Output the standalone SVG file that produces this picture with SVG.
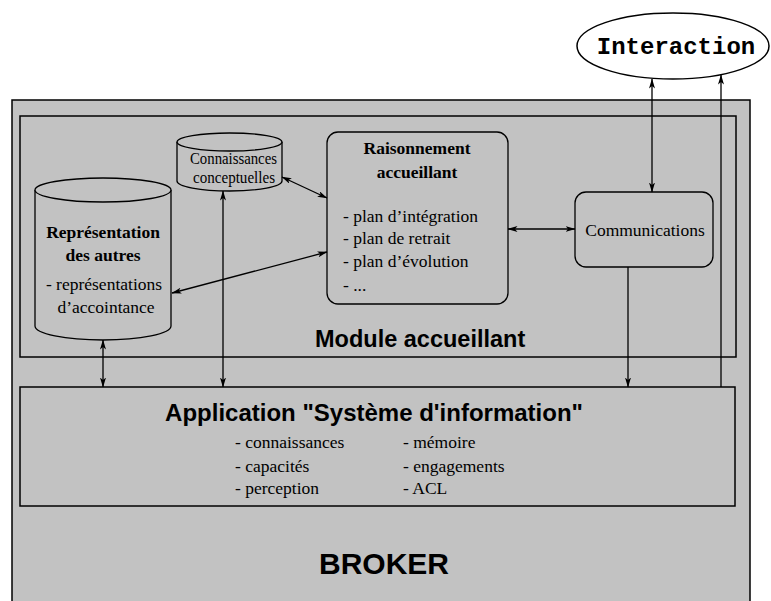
<svg xmlns="http://www.w3.org/2000/svg" width="771" height="601" viewBox="0 0 771 601">
<defs>
<marker id="ah" viewBox="0 0 10 6" refX="9.5" refY="3" markerWidth="10" markerHeight="6" markerUnits="userSpaceOnUse" orient="auto-start-reverse">
<path d="M0,0 L10,3 L0,6 L2.5,3 z" fill="#000"/>
</marker>
</defs>
<style>
.box{fill:#c2c2c2;stroke:#000;stroke-width:1.5}
.inner{fill:#c2c2c2;stroke:#000;stroke-width:1.3}
.serif{font-family:"Liberation Serif","Times New Roman",serif;font-size:17.5px;fill:#000}
.bold{font-weight:bold}
.sans{font-family:"Liberation Sans",Arial,sans-serif;font-weight:bold;fill:#000}
.mono{font-family:"Liberation Mono","Courier New",monospace;font-weight:bold;font-size:24px;fill:#000}
.conn{fill:none;stroke:#000;stroke-width:1.3}
.a2{marker-start:url(#ah);marker-end:url(#ah)}
.ae{marker-end:url(#ah)}
.as{marker-start:url(#ah)}
</style>
<rect width="771" height="601" fill="#fff"/>

<g id="broker">
<rect class="box" x="12" y="100" width="738" height="510"/>
<text class="sans" x="384" y="574" font-size="30" text-anchor="middle">BROKER</text>
</g>

<g id="module-accueillant">
<rect class="box" x="20" y="116" width="716" height="241"/>
<text class="sans" x="315" y="347" font-size="23.5">Module accueillant</text>
</g>

<g id="application">
<rect class="box" x="20" y="387" width="715" height="119"/>
<text class="sans" x="374" y="421" font-size="24" text-anchor="middle">Application "Système d'information"</text>
<text class="serif" x="235" y="448">- connaissances</text>
<text class="serif" x="235" y="472">- capacités</text>
<text class="serif" x="235" y="494">- perception</text>
<text class="serif" x="403" y="448">- mémoire</text>
<text class="serif" x="403" y="472">- engagements</text>
<text class="serif" x="403" y="494">- ACL</text>
</g>

<g id="interaction">
<ellipse cx="673" cy="46" rx="96" ry="33" fill="#fff" stroke="#000" stroke-width="1.5"/>
<text class="mono" x="676" y="54" text-anchor="middle">Interaction</text>
</g>

<g id="representation-autres">
<path class="inner" d="M35,190 L35,326 A68,14 0 0 0 171,326 L171,190"/>
<ellipse class="inner" cx="103" cy="190" rx="68" ry="12"/>
<text class="serif bold" x="103" y="238" text-anchor="middle">Représentation</text>
<text class="serif bold" x="103" y="261" text-anchor="middle">des autres</text>
<text class="serif" x="104" y="290" text-anchor="middle">- représentations</text>
<text class="serif" x="106" y="313" text-anchor="middle">d’accointance</text>
</g>

<g id="connaissances-conceptuelles">
<path class="inner" d="M177,142 L177,181 A52.5,10 0 0 0 282,181 L282,142"/>
<ellipse class="inner" cx="229.5" cy="142" rx="52.5" ry="9"/>
<text class="serif" x="190" y="164" font-size="12.5" textLength="87" lengthAdjust="spacingAndGlyphs">Connaissances</text>
<text class="serif" x="193" y="183" font-size="12.5" textLength="82" lengthAdjust="spacingAndGlyphs">conceptuelles</text>
</g>

<g id="raisonnement">
<rect class="inner" x="327" y="132" width="181" height="172" rx="11"/>
<text class="serif bold" x="417" y="154" text-anchor="middle">Raisonnement</text>
<text class="serif bold" x="417" y="178" text-anchor="middle">accueillant</text>
<text class="serif" x="343" y="222">- plan d’intégration</text>
<text class="serif" x="343" y="244">- plan de retrait</text>
<text class="serif" x="343" y="267">- plan d’évolution</text>
<text class="serif" x="343" y="291">- ...</text>
</g>

<g id="communications">
<rect class="inner" x="575" y="192" width="138" height="75" rx="11"/>
<text class="serif" x="645" y="236" text-anchor="middle">Communications</text>
</g>

<g id="connectors">
<line class="conn a2" x1="652" y1="79" x2="652" y2="192"/>
<line class="conn as" x1="721" y1="75" x2="721" y2="387"/>
<line class="conn ae" x1="628" y1="267" x2="628" y2="387"/>
<line class="conn a2" x1="508" y1="229" x2="575" y2="229"/>
<line class="conn a2" x1="327" y1="252" x2="172" y2="293"/>
<line class="conn a2" x1="282" y1="177" x2="327" y2="198"/>
<line class="conn a2" x1="223" y1="191" x2="223" y2="387"/>
<line class="conn a2" x1="103" y1="340" x2="103" y2="387"/>
</g>
</svg>
